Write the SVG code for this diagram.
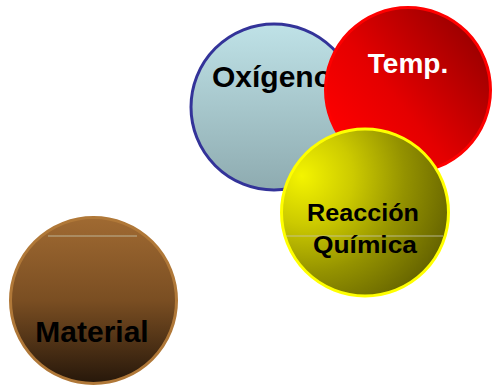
<svg xmlns="http://www.w3.org/2000/svg" width="492" height="388" viewBox="0 0 492 388">
<defs>
<linearGradient id="gBlue" x1="0" y1="0" x2="0" y2="1">
<stop offset="0" stop-color="#bfe2e7"/>
<stop offset="1" stop-color="#8eabb0"/>
</linearGradient>
<linearGradient id="gRed" x1="0.1" y1="0.85" x2="0.95" y2="0.15">
<stop offset="0" stop-color="#ff0000"/>
<stop offset="0.4" stop-color="#e40000"/>
<stop offset="1" stop-color="#960000"/>
</linearGradient>
<radialGradient id="gYel" cx="0.2" cy="0.3" r="0.95" fx="0.12" fy="0.28">
<stop offset="0" stop-color="#f4f400"/>
<stop offset="0.3" stop-color="#ccca00"/>
<stop offset="0.6" stop-color="#949200"/>
<stop offset="1" stop-color="#585600"/>
</radialGradient>
<linearGradient id="gBrown" x1="0" y1="0" x2="0" y2="1">
<stop offset="0" stop-color="#a06a32"/>
<stop offset="0.5" stop-color="#7a4e22"/>
<stop offset="1" stop-color="#26170a"/>
</linearGradient>
</defs>
<style>
text{font-family:"Liberation Sans",Arial,sans-serif;font-weight:bold;text-anchor:middle}
.dark{fill:#000}
.light{fill:#fff}
.sheen{stroke:#c8c8b0;stroke-width:1;opacity:0.8}
</style>
<g id="material">
<circle cx="93.5" cy="300.5" r="83" fill="url(#gBrown)" stroke="#b07838" stroke-width="3"/>
<line class="sheen" x1="48" y1="236" x2="137" y2="236"/>
<text class="dark" x="92" y="342" font-size="30">Material</text>
</g>
<g id="oxigeno">
<circle cx="274" cy="107" r="83" fill="url(#gBlue)" stroke="#333399" stroke-width="3"/>
<text class="dark" x="272" y="87" font-size="30">Oxígeno</text>
</g>
<g id="temp">
<circle cx="408" cy="90" r="82.5" fill="url(#gRed)" stroke="#ff0000" stroke-width="3"/>
<text class="light" x="408" y="73" font-size="28">Temp.</text>
</g>
<g id="reaccion">
<circle cx="365" cy="212.5" r="83.5" fill="url(#gYel)" stroke="#ffff00" stroke-width="3"/>
<line class="sheen" x1="286" y1="236" x2="443" y2="236"/>
<text class="dark" x="363" y="221" font-size="23" textLength="112" lengthAdjust="spacingAndGlyphs">Reacción</text>
<text class="dark" x="365" y="253" font-size="23" textLength="104" lengthAdjust="spacingAndGlyphs">Química</text>
</g>
<g id="connectors"/>
</svg>
